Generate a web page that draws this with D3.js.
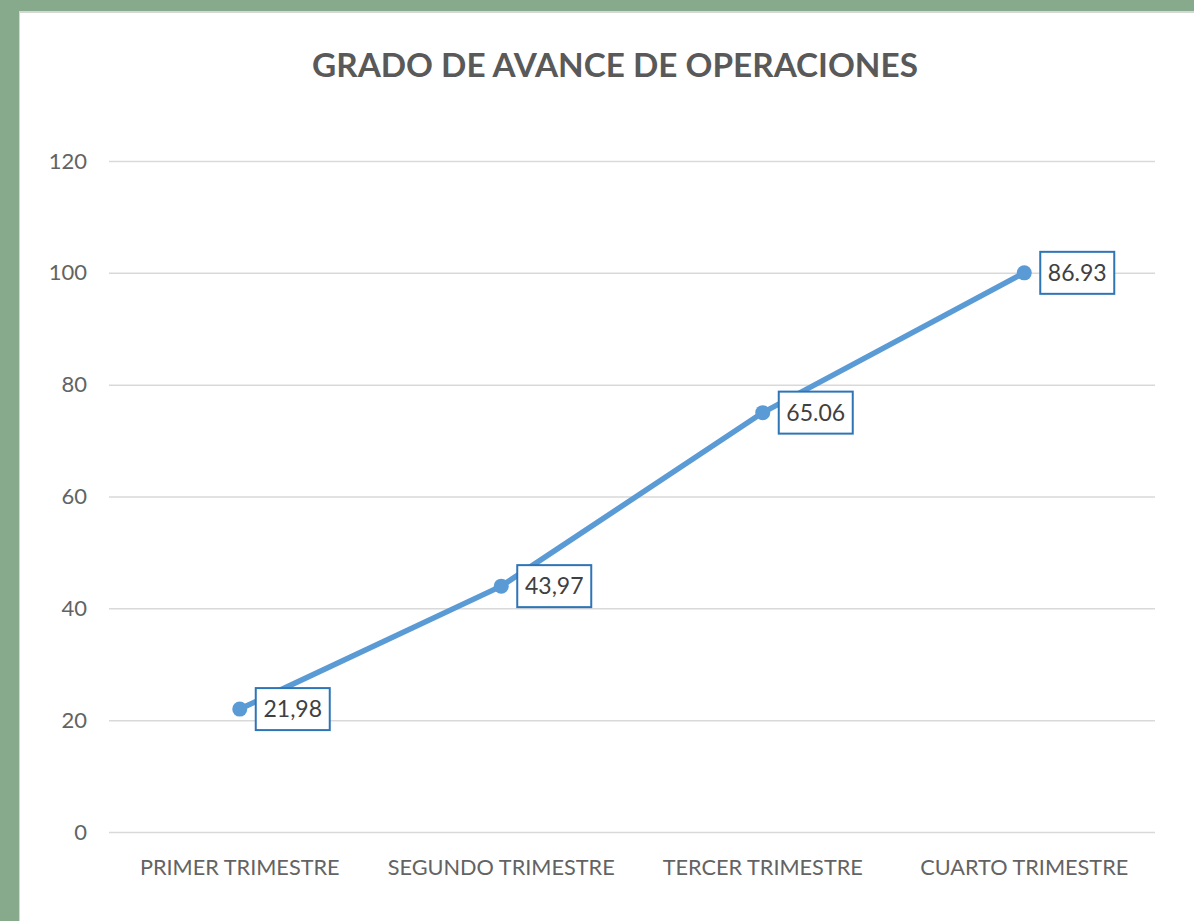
<!DOCTYPE html>
<html>
<head>
<meta charset="utf-8">
<script src="https://cdn.jsdelivr.net/npm/d3@7"></script>
<style>
  html, body { margin: 0; padding: 0; background: #88aa8c; }
  #chart { width: 1194px; height: 921px; }
  text { font-family: Lato, "Open Sans", sans-serif; }
</style>
</head>
<body>
<div id="chart"></div>
<script>
// quarters and their values
var categories = ["PRIMER TRIMESTRE", "SEGUNDO TRIMESTRE", "TERCER TRIMESTRE", "CUARTO TRIMESTRE"];
var values = [21.98, 43.97, 75, 100];
var labels = ["21,98", "43,97", "65.06", "86.93"];
var yTicks = [0, 20, 40, 60, 80, 100, 120];

var W = 1194, H = 921;
var plot = {left: 109, right: 1155, top: 161, bottom: 832};

var svg = d3.select("#chart").append("svg")
  .attr("width", W)
  .attr("height", H);

/* Background: green frame and white panel */
svg.append("rect")
  .attr("width", W).attr("height", H)
  .attr("fill", "#88aa8c");
svg.append("rect")
  .attr("x", 19).attr("y", 11)
  .attr("width", W - 19).attr("height", H - 11)
  .attr("fill", "#d4d8d4");
svg.append("rect")
  .attr("x", 20).attr("y", 13)
  .attr("width", W - 20).attr("height", H - 13)
  .attr("fill", "#ffffff");

/* Title */
svg.append("text")
  .attr("x", 615)
  .attr("y", 77)
  .attr("text-anchor", "middle")
  .attr("font-size", "33.3px")
  .attr("font-weight", "bold")
  .attr("fill", "#595959")
  .text("GRADO DE AVANCE DE OPERACIONES");

/* Scales */
var x = d3.scaleBand()
  .domain(categories)
  .range([plot.left, plot.right]);

var y = d3.scaleLinear()
  .domain([0, 120])
  .range([plot.bottom, plot.top]);

/* Gridlines + y labels */
var yAxis = d3.axisLeft(y)
  .tickValues(yTicks)
  .tickSize(-(plot.right - plot.left))
  .tickPadding(22);

var gy = svg.append("g")
  .attr("transform", "translate(" + plot.left + ",0)")
  .call(yAxis);
gy.select(".domain").remove();
gy.selectAll(".tick line")
  .attr("stroke", "#d9d9d9")
  .attr("stroke-width", 1.5);
gy.selectAll(".tick text")
  .attr("font-size", "22px")
  .attr("fill", "#636363");

/* Category labels */
var xAxis = d3.axisBottom(x).tickSize(0).tickPadding(28);
var gx = svg.append("g")
  .attr("transform", "translate(0," + plot.bottom + ")")
  .call(xAxis);
gx.select(".domain").remove();
gx.selectAll(".tick text")
  .attr("font-size", "21.7px")
  .attr("fill", "#636363");

/* Line */
var pts = categories.map(function(c, i) { return {cat: c, value: values[i], label: labels[i]}; });

var line = d3.line()
  .x(function(d) { return x(d.cat) + x.bandwidth() / 2; })
  .y(function(d) { return y(d.value); });

svg.append("path")
  .datum(pts)
  .attr("d", line)
  .attr("fill", "none")
  .attr("stroke", "#5b9bd5")
  .attr("stroke-width", 5.5)
  .attr("stroke-linecap", "round");

/* Data labels (boxed) */
var lbl = svg.selectAll(".lbl")
  .data(pts).enter()
  .append("g")
  .attr("class", "lbl")
  .attr("transform", function(d) {
    return "translate(" + (x(d.cat) + x.bandwidth() / 2 + 16) + "," + y(d.value) + ")";
  });

lbl.append("rect")
  .attr("x", 0).attr("y", -21)
  .attr("width", 74).attr("height", 42)
  .attr("fill", "#ffffff")
  .attr("stroke", "#2e75b6")
  .attr("stroke-width", 2);

lbl.append("text")
  .attr("x", 37).attr("y", 8)
  .attr("text-anchor", "middle")
  .attr("font-size", "23px")
  .attr("fill", "#404040")
  .text(function(d) { return d.label; });

/* Markers */
svg.selectAll(".dot")
  .data(pts).enter()
  .append("circle")
  .attr("class", "dot")
  .attr("cx", function(d) { return x(d.cat) + x.bandwidth() / 2; })
  .attr("cy", function(d) { return y(d.value); })
  .attr("r", 7.5)
  .attr("fill", "#5b9bd5");
</script>
</body>
</html>
